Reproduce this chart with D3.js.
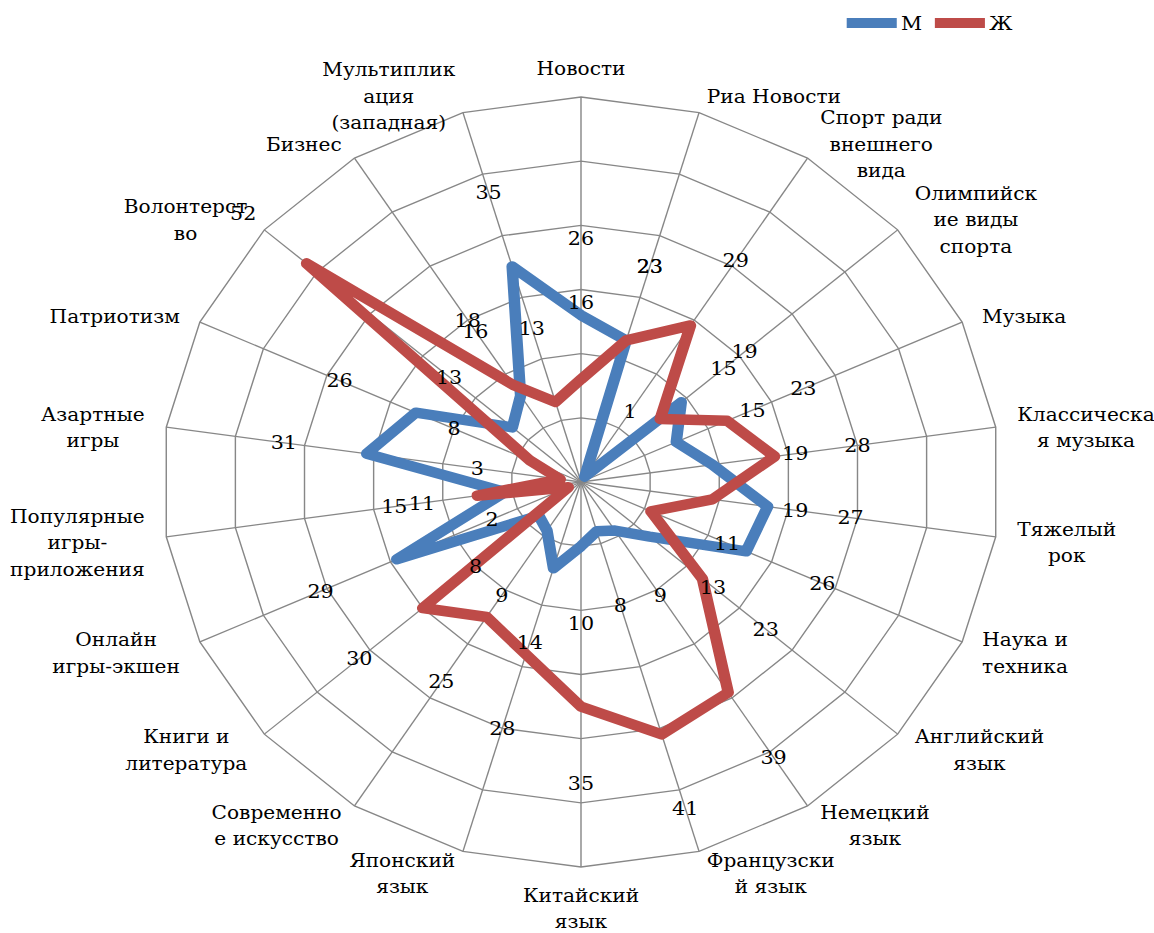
<!DOCTYPE html>
<html><head><meta charset="utf-8">
<script src="https://cdn.jsdelivr.net/npm/d3@7"></script>
<style>
body{margin:0;background:#fff}
svg{display:block}
</style>
</head><body>
<svg id="c" width="1154" height="933"></svg>
<script>
// ---- data ----
const categories = ["Новости","Риа Новости","Спорт ради\nвнешнего\nвида","Олимпийск\nие виды\nспорта","Музыка","Классическа\nя музыка","Тяжелый\nрок","Наука и\nтехника","Английский\nязык","Немецкий\nязык","Французски\nй язык","Китайский\nязык","Японский\nязык","Современно\nе искусство","Книги и\nлитература","Онлайн\nигры-экшен","Популярные\nигры-\nприложения","Азартные\nигры","Патриотизм","Волонтерст\nво","Бизнес","Мультиплик\nация\n(западная)"];
const seriesNames = ["М","Ж"];
const valuesM = [26,23,1,19,15,19,27,26,13,9,8,10,14,9,8,29,11,31,26,13,16,35];
const valuesF = [16,23,29,15,23,28,19,11,23,39,41,35,28,25,30,2,15,3,8,52,18,13];
const ringTicks = [10,20,30,40,50,60];
const colors = ["#4A7EBB","#BE4B48"];

// ---- layout ----
const FONT = "DejaVu Serif";
const FS = 19, FS_CAT = 18.5;
const sx = 419/385;           // horizontal stretch of the picture
const cx = 581/sx, cy = 482, R = 385;
const n = categories.length;
const maxV = 60;
const labelShift = 12;        // data labels sit this many units outward

const svg = d3.select("#c");
const root = svg.append("g").attr("transform",`scale(${sx},1)`)
  .style("font-family",FONT).attr("fill","#000");
const g = root.append("g").attr("transform",`translate(${cx},${cy})`);

const angle = d3.scaleLinear().domain([0,n]).range([0,2*Math.PI]);
const r = d3.scaleLinear().domain([0,maxV]).range([0,R]);
const pt = (i,rad)=>{const a=angle(i);return [rad*Math.sin(a), -rad*Math.cos(a)];};

// rings
g.selectAll("path.ring").data(ringTicks).join("path")
  .attr("class","ring")
  .attr("d",t=>d3.line()(d3.range(n).map(i=>pt(i,r(t))))+"Z")
  .attr("fill","none").attr("stroke","#878787").attr("stroke-width",1.3);

// spokes
g.selectAll("line.spoke").data(d3.range(n)).join("line")
  .attr("class","spoke")
  .attr("x1",0).attr("y1",0)
  .attr("x2",i=>pt(i,R)[0]).attr("y2",i=>pt(i,R)[1])
  .attr("stroke","#878787").attr("stroke-width",1.3);

// series
const radial = d3.lineRadial()
  .angle((d,i)=>angle(i)).radius(d=>r(d)).curve(d3.curveLinearClosed);
[valuesM,valuesF].forEach((vals,k)=>{
  g.append("path").attr("d",radial(vals))
   .attr("fill","none").attr("stroke",colors[k]).attr("stroke-width",10.5)
   .attr("stroke-linejoin","round").attr("stroke-linecap","round");
});

// data labels
[valuesM,valuesF].forEach(vals=>{
  g.selectAll(null).data(vals).join("text")
   .attr("x",(v,i)=>pt(i,r(v+labelShift))[0])
   .attr("y",(v,i)=>pt(i,r(v+labelShift))[1])
   .attr("dy","0.35em").attr("text-anchor","middle")
   .attr("font-size",FS).text(v=>v);
});

// category labels
const lh = 26.5;
categories.forEach((c,i)=>{
  const a = angle(i), s = Math.sin(a), co = Math.cos(a);
  const [ex,ey] = pt(i,R);
  const lines = c.split("\n");
  const h = lines.length*lh;
  const t = g.append("text").attr("text-anchor","middle").attr("font-size",FS_CAT);
  lines.forEach((l,k)=>t.append("tspan").attr("x",0).attr("y",k*lh).text(l));
  const w = t.node().getBBox().width;
  let bx, by;
  if (Math.abs(s) < 0.1) {
    bx = ex; by = ey - Math.sign(co)*(15 + h/2);
  } else {
    bx = ex + Math.sign(s)*((18*Math.abs(s)+2) + w/2);
    by = ey - 20*co + 3;
  }
  t.selectAll("tspan").attr("x",bx)
   .attr("y",(d,k)=>by - (lines.length-1)*lh/2 + k*lh)
   .attr("dy","0.35em");
});

// legend
const leg = root.append("g");
const legX = [778, 859];
seriesNames.forEach((nm,k)=>{
  leg.append("line").attr("x1",legX[k]).attr("x2",legX[k]+46)
    .attr("y1",23).attr("y2",23).attr("stroke",colors[k]).attr("stroke-width",10);
  leg.append("text").attr("x",legX[k]+50).attr("y",23).attr("dy","0.35em")
    .attr("font-size",FS).text(nm);
});
</script>
</body></html>
